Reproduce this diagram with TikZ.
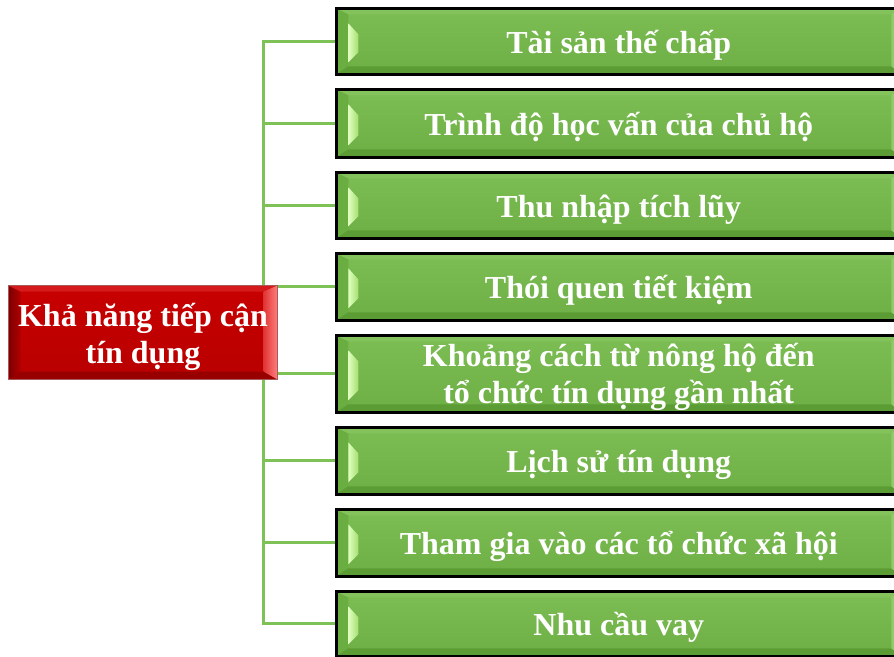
\documentclass[tikz,border=0pt]{standalone}
\usepackage{fontspec}
\setmainfont{Liberation Serif}
\usetikzlibrary{backgrounds}
\definecolor{gface1}{HTML}{7CBD54}
\definecolor{gface2}{HTML}{6EAF45}
\definecolor{gtop}{HTML}{84C35C}
\definecolor{gleft}{HTML}{6AAD40}
\definecolor{gbot}{HTML}{5C9C34}
\definecolor{gright}{HTML}{8FCB68}
\definecolor{ghi1}{HTML}{E0FFC0}
\definecolor{ghi2}{HTML}{A6DE74}
\definecolor{conncol}{HTML}{7DC157}
\definecolor{rface1}{HTML}{C80000}
\definecolor{rface2}{HTML}{B80000}
\definecolor{rtop}{HTML}{D41A1A}
\definecolor{rleft1}{HTML}{7E0000}
\definecolor{rleft2}{HTML}{B00000}
\definecolor{rbot}{HTML}{980000}
\definecolor{rright1}{HTML}{E03434}
\definecolor{rright2}{HTML}{FF8080}
\definecolor{rborder}{HTML}{A85A5A}
\tikzset{
  boxtext/.style={text=white, font=\bfseries\fontsize{32}{37}\selectfont, align=center, inner sep=0pt},
  gbox/.style={draw=black, line width=2.5pt, top color=gface1, bottom color=gface2,
    minimum width=565pt, anchor=north west, inner sep=0pt,
    path picture={
      \coordinate (NW) at (path picture bounding box.north west);
      \coordinate (NE) at (path picture bounding box.north east);
      \coordinate (SW) at (path picture bounding box.south west);
      \coordinate (SE) at (path picture bounding box.south east);
      \fill[gleft] (NW) -- (SW) -- ([shift={(12pt,8pt)}]SW) -- ([shift={(12pt,-6pt)}]NW) -- cycle;
      \fill[gtop] (NW) -- (NE) -- ([shift={(-10pt,-6pt)}]NE) -- ([shift={(12pt,-6pt)}]NW) -- cycle;
      \fill[gbot] (SW) -- (SE) -- ([shift={(-10pt,8pt)}]SE) -- ([shift={(12pt,8pt)}]SW) -- cycle;
      \fill[gright] (NE) -- (SE) -- ([shift={(-10pt,8pt)}]SE) -- ([shift={(-10pt,-6pt)}]NE) -- cycle;
      \shade[left color=ghi1, right color=ghi2] ([shift={(12pt,-15pt)}]NW) -- ([shift={(22pt,-26pt)}]NW) -- ([shift={(22pt,22pt)}]SW) -- ([shift={(12pt,12pt)}]SW) -- cycle;
    }},
  rbox/.style={draw=rborder, line width=1pt, top color=rface1, bottom color=rface2,
    minimum width=269pt, minimum height=94pt, anchor=north west, inner sep=0pt,
    path picture={
      \coordinate (NW) at (path picture bounding box.north west);
      \coordinate (NE) at (path picture bounding box.north east);
      \coordinate (SW) at (path picture bounding box.south west);
      \coordinate (SE) at (path picture bounding box.south east);
      \shade[left color=rleft1, right color=rleft2] (NW) -- (SW) -- ([shift={(12pt,8pt)}]SW) -- ([shift={(12pt,-6pt)}]NW) -- cycle;
      \fill[rtop] (NW) -- (NE) -- ([shift={(-14pt,-6pt)}]NE) -- ([shift={(12pt,-6pt)}]NW) -- cycle;
      \fill[rbot] (SW) -- (SE) -- ([shift={(-14pt,8pt)}]SE) -- ([shift={(12pt,8pt)}]SW) -- cycle;
      \shade[left color=rright1, right color=rright2] (NE) -- (SE) -- ([shift={(-14pt,8pt)}]SE) -- ([shift={(-14pt,-6pt)}]NE) -- cycle;
    }},
  conn/.style={draw=conncol, line width=3pt}
}
\begin{document}
\begin{tikzpicture}[x=1pt,y=-1pt]
\useasboundingbox (0,0) rectangle (894,656);
\clip (0,0) rectangle (894,656);
\node[rbox] (r) at (8,285) {};
\node[gbox, minimum height=66pt] (g1) at (335,7) {};
\node[gbox, minimum height=68pt] (g2) at (335,88) {};
\node[gbox, minimum height=66pt] (g3) at (335,171) {};
\node[gbox, minimum height=67pt] (g4) at (335,252) {};
\node[gbox, minimum height=77pt] (g5) at (335,334) {};
\node[gbox, minimum height=67pt] (g6) at (335,426) {};
\node[gbox, minimum height=67pt] (g7) at (335,508) {};
\node[gbox, minimum height=65pt] (g8) at (335,590) {};
\node[boxtext] (rt) at ([yshift=-4pt]r.center) {Khả năng tiếp cận\\tín dụng};
\node[boxtext] (t1) at ([yshift=-4pt]g1.center) {Tài sản thế chấp};
\node[boxtext] (t2) at ([yshift=-4pt]g2.center) {Trình độ học vấn của chủ hộ};
\node[boxtext] (t3) at ([yshift=-4pt]g3.center) {Thu nhập tích lũy};
\node[boxtext] (t4) at ([yshift=-4pt]g4.center) {Thói quen tiết kiệm};
\node[boxtext] (t5) at ([yshift=-3pt]g5.center) {Khoảng cách từ nông hộ đến\\ tổ chức tín dụng gần nhất};
\node[boxtext] (t6) at ([yshift=-4pt]g6.center) {Lịch sử tín dụng};
\node[boxtext] (t7) at ([yshift=-4pt]g7.center) {Tham gia vào các tổ chức xã hội};
\node[boxtext] (t8) at ([yshift=-4pt]g8.center) {Nhu cầu vay};
\coordinate (tx) at (263,0);
\begin{scope}[on background layer]
\fill[white] (0,0) rectangle (894,656);
\draw[conn] (g1.west) -- (g1.west -| tx) -- (g8.west -| tx) -- (g8.west);
\foreach \i in {2,...,7} { \draw[conn] (g\i.west) -- (g\i.west -| tx); }
\end{scope}
\end{tikzpicture}
\end{document}
